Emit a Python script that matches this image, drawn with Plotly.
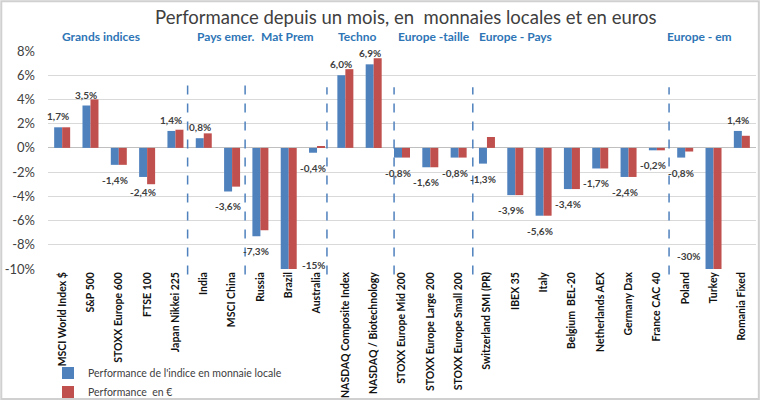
import plotly.graph_objects as go

categories = [
    "MSCI World Index $", "S&P 500", "STOXX Europe 600", "FTSE 100", "Japan Nikkei 225",
    "India", "MSCI China", "Russia", "Brazil", "Australia",
    "NASDAQ Composite Index", "NASDAQ / Biotechnology",
    "STOXX Europe Mid 200", "STOXX Europe Large 200", "STOXX Europe Small 200",
    "Switzerland SMI (PR)", "IBEX 35", "Italy", "Belgium  BEL-20", "Netherlands AEX",
    "Germany Dax", "France CAC 40", "Poland", "Turkey", "Romania Fixed",
]
perf_local = [1.7, 3.5, -1.4, -2.4, 1.4, 0.8, -3.6, -7.3, -15, -0.4, 6.0, 6.9,
              -0.8, -1.6, -0.8, -1.3, -3.9, -5.6, -3.4, -1.7, -2.4, -0.2, -0.8, -30, 1.4]
perf_eur = [1.7, 4.0, -1.4, -3.0, 1.5, 1.2, -3.2, -6.8, -15, 0.1, 6.5, 7.4,
            -0.8, -1.6, -0.8, 0.9, -3.9, -5.6, -3.4, -1.7, -2.4, -0.2, -0.3, -30, 1.0]

group_labels = ["Grands indices", "Pays emer.", "Mat Prem", "Techno",
                "Europe -taille", "Europe - Pays", "Europe - em"]
group_label_pos = [1.37, 5.75, 7.97, 10.41, 13.13, 15.99, 22.52]
separators = [4.43, 6.46, 9.35, 11.72, 14.5, 21.43]
separator_tops = [5.3, 5.3, 5.0, 5.0, 5.0, 5.0]
tick_vals = [-10, -8, -6, -4, -2, 0, 2, 4, 6, 8]
tick_text = [f"{v}%" for v in tick_vals]

Y_MIN, Y_MAX = -10, 8
BLUE = "#4f81bd"
RED = "#c0504d"
FONT = "Lato"

fig = go.Figure()
fig.add_trace(go.Bar(x=categories, y=perf_local, name="Performance de l'indice en monnaie locale",
                     marker=dict(color=BLUE, line=dict(width=0))))
fig.add_trace(go.Bar(x=categories, y=perf_eur, name="Performance  en €",
                     marker=dict(color=RED, line=dict(width=0))))


def fmt(v):
    if abs(v) >= 10:
        return f"{v:.0f}%"
    return f"{v:.1f}%".replace(".", ",")


annotations = []
for cat, v in zip(categories, perf_local):
    if v < Y_MIN:
        yv = Y_MIN
        if v > -20:
            xs, ys = 25, 4
        else:
            xs, ys = -25, 13
    else:
        yv = v
        xs = -4
        ys = 11 if v >= 0 else -15
    annotations.append(dict(x=cat, y=yv, xref="x", yref="y", text=fmt(v), showarrow=False,
                            xshift=xs, yshift=ys,
                            font=dict(family=FONT, size=10, color="#404040", weight="bold")))

for lab, pos in zip(group_labels, group_label_pos):
    annotations.append(dict(x=pos, y=1.068, xref="x", yref="paper", text=lab, showarrow=False,
                            yanchor="middle",
                            font=dict(family=FONT, size=12, color="#2e75b6", weight="bold")))

shapes = []
for s, top in zip(separators, separator_tops):
    shapes.append(dict(type="line", xref="x", yref="paper", x0=s, x1=s,
                       y0=-0.025, y1=(top - Y_MIN) / (Y_MAX - Y_MIN),
                       line=dict(color=BLUE, width=1.5, dash="dash")))
# outer frame
shapes.append(dict(type="rect", xref="paper", yref="paper",
                   x0=-0.066, x1=1.004, y0=-0.596, y1=1.228,
                   line=dict(color="#d0d0d0", width=2), fillcolor="rgba(0,0,0,0)"))

fig.update_layout(
    width=760, height=402,
    margin=dict(l=48, r=4, t=51, b=133, autoexpand=False),
    paper_bgcolor="white", plot_bgcolor="white",
    barmode="group", bargap=0.435, bargroupgap=0,
    font=dict(family=FONT, color="#404040"),
    title=dict(text="Performance depuis un mois, en  monnaies locales et en euros",
               x=0.534, xanchor="center", y=0.957, yanchor="middle", yref="container",
               font=dict(family=FONT, size=18.5, color="#404040")),
    xaxis=dict(type="category", tickangle=-90, showgrid=False, ticks="",
               range=[-0.5, len(categories) - 0.5], automargin=False,
               tickfont=dict(family=FONT, size=10.5, color="#111111", weight="bold"),
               showline=False),
    yaxis=dict(range=[Y_MIN, Y_MAX], tickvals=tick_vals, ticktext=tick_text,
               showgrid=True, gridcolor="#d9d9d9", gridwidth=1, automargin=False,
               zeroline=True, zerolinecolor="#bfbfbf", zerolinewidth=1,
               ticks="", ticklabelstandoff=12,
               tickfont=dict(family=FONT, size=13, color="#404040")),
    legend=dict(x=0.0, xanchor="left", y=-0.41, yanchor="top", orientation="v",
                font=dict(family=FONT, size=10.5, color="#404040"),
                bgcolor="rgba(0,0,0,0)", tracegroupgap=0, itemwidth=30),
    annotations=annotations,
    shapes=shapes,
    showlegend=True,
)

fig.write_html("out.html", config={"displayModeBar": False},
               post_script="document.body.style.margin='0';")
